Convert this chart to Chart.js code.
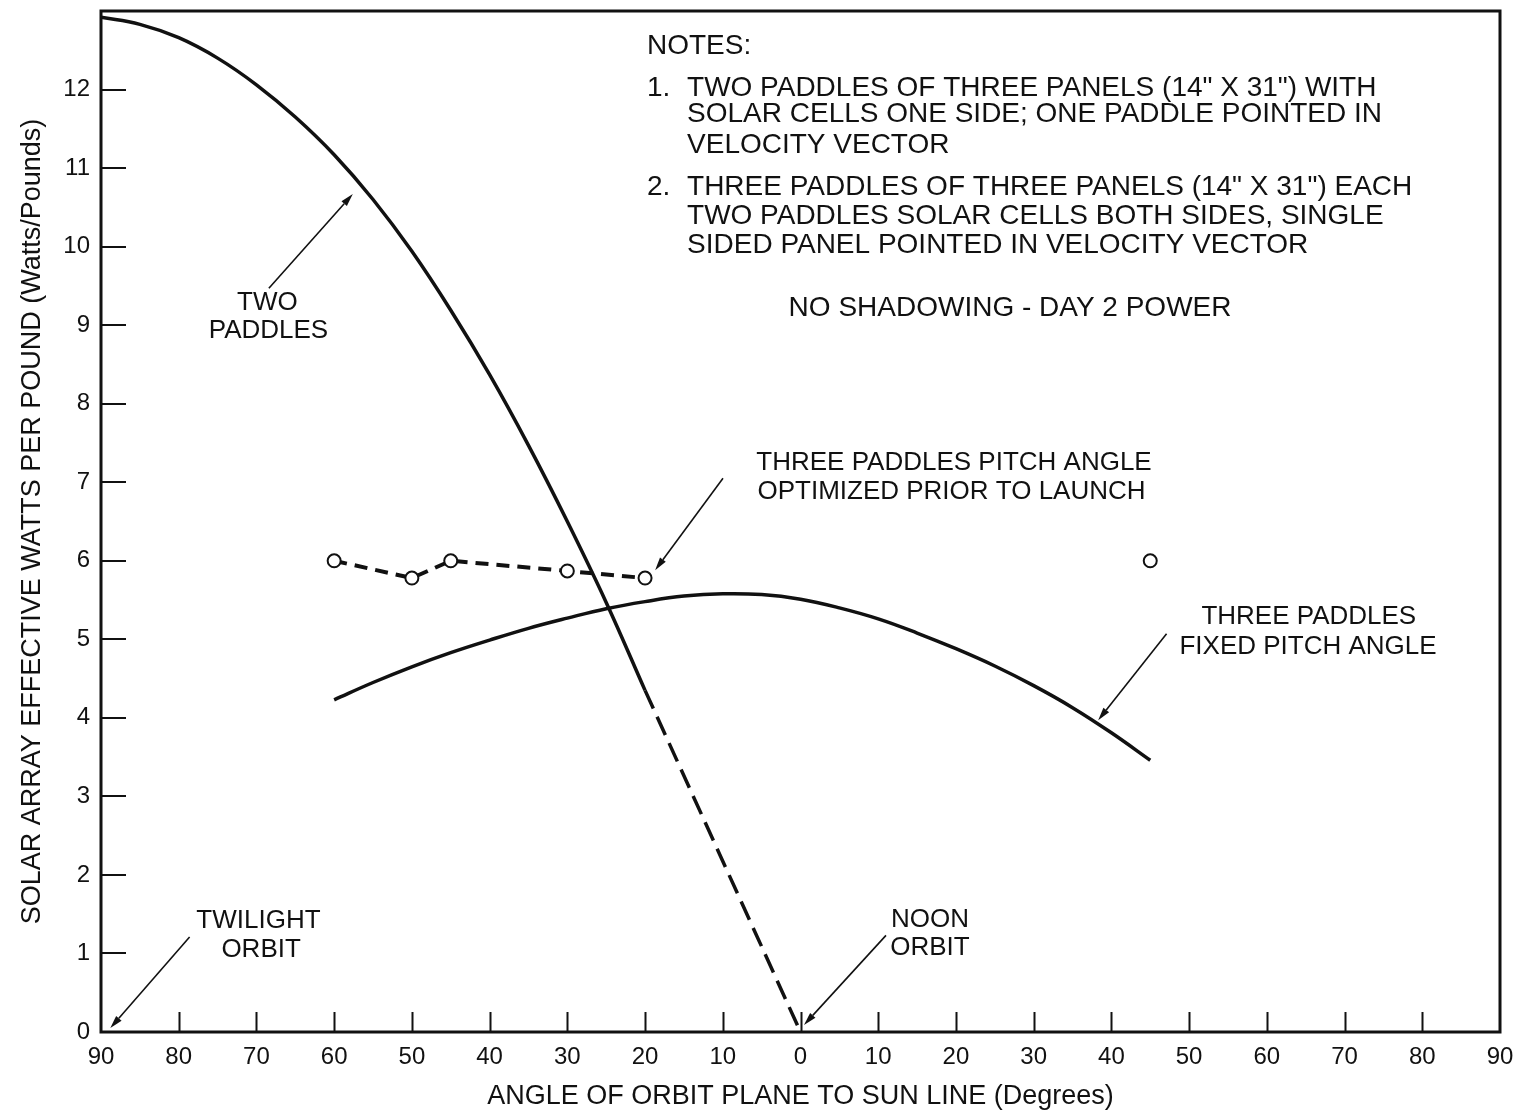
<!DOCTYPE html>
<html>
<head>
<meta charset="utf-8">
<script src="https://cdn.jsdelivr.net/npm/chart.js@4.4.1/dist/chart.umd.min.js"></script>
<style>
  html, body { margin: 0; padding: 0; background: #fff; }
  canvas { display: block; }
</style>
</head>
<body>
<canvas id="chart" width="1526" height="1114"></canvas>
<script>
// Angle of orbit plane to sun line: the left half of the axis runs 90 -> 0 (negative values),
// the right half runs 0 -> 90 (positive values).
const twoPaddleAngles = [-90, -85, -80, -75, -70, -65, -60, -55, -50, -45, -40, -35, -30, -25, -20];
const twoPaddleWatts  = [12.92, 12.83, 12.66, 12.40, 12.06, 11.65, 11.17, 10.60, 9.94, 9.19, 8.37, 7.47, 6.50, 5.47, 4.35];

// extrapolated part of the two-paddle curve down to the noon orbit
const twoPaddleExtAngles = [-20, 0];
const twoPaddleExtWatts  = [4.35, 0];

const fixedPitchAngles = [-60, -55, -50, -45, -40, -35, -30, -25, -20, -15, -10, -5, 0, 5, 10, 15, 20, 25, 30, 35, 40, 45];
const fixedPitchWatts  = [4.23, 4.45, 4.65, 4.83, 4.99, 5.14, 5.27, 5.39, 5.48, 5.55, 5.58, 5.57, 5.51, 5.40, 5.26, 5.08, 4.88, 4.66, 4.41, 4.13, 3.81, 3.46];

const optimizedAngles = [-60, -50, -45, -30, -20];
const optimizedWatts  = [6.00, 5.78, 6.00, 5.87, 5.78];

const optimizedLoneAngles = [45];
const optimizedLoneWatts  = [6.00];

const xTickLabels = ['90', '80', '70', '60', '50', '40', '30', '20', '10', '0', '10', '20', '30', '40', '50', '60', '70', '80', '90'];
const yTickLabels = ['0', '1', '2', '3', '4', '5', '6', '7', '8', '9', '10', '11', '12', ''];

const INK = '#111111';
const FONT = '"Liberation Sans", Arial, sans-serif';

const toPoints = (xs, ys) => xs.map((x, i) => ({ x, y: ys[i] }));

// Text blocks and arrows, placed in axis units.
const notes = [
  { text: 'NOTES:', x: -19.75, y: 12.55, align: 'left' },
  { text: '1.', x: -19.75, y: 12.02, align: 'left' },
  { text: 'TWO PADDLES OF THREE PANELS (14" X 31") WITH', x: -14.6, y: 12.02, align: 'left' },
  { text: 'SOLAR CELLS ONE SIDE; ONE PADDLE POINTED IN', x: -14.6, y: 11.68, align: 'left' },
  { text: 'VELOCITY VECTOR', x: -14.6, y: 11.29, align: 'left' },
  { text: '2.', x: -19.75, y: 10.76, align: 'left' },
  { text: 'THREE PADDLES OF THREE PANELS (14" X 31") EACH', x: -14.6, y: 10.76, align: 'left' },
  { text: 'TWO PADDLES SOLAR CELLS BOTH SIDES, SINGLE', x: -14.6, y: 10.39, align: 'left' },
  { text: 'SIDED PANEL POINTED IN VELOCITY VECTOR', x: -14.6, y: 10.02, align: 'left' },
  { text: 'NO SHADOWING - DAY 2 POWER', x: 26.96, y: 9.22, align: 'center' }
];

const labels = [
  { text: 'TWO', x: -68.6, y: 9.28 },
  { text: 'PADDLES', x: -68.45, y: 8.93 },
  { text: 'THREE PADDLES PITCH ANGLE', x: 19.75, y: 7.245 },
  { text: 'OPTIMIZED PRIOR TO LAUNCH', x: 19.43, y: 6.875 },
  { text: 'THREE PADDLES', x: 65.4, y: 5.28 },
  { text: 'FIXED PITCH ANGLE', x: 65.3, y: 4.90 },
  { text: 'TWILIGHT', x: -69.74, y: 1.41 },
  { text: 'ORBIT', x: -69.4, y: 1.05 },
  { text: 'NOON', x: 16.66, y: 1.43 },
  { text: 'ORBIT', x: 16.66, y: 1.07 }
];

const arrows = [
  { from: [-68.4, 9.47], to: [-57.6, 10.67] },
  { from: [-9.97, 7.05], to: [-18.7, 5.88] },
  { from: [47.1, 5.07], to: [38.3, 3.97] },
  { from: [-78.6, 1.21], to: [-88.8, 0.05] },
  { from: [11.0, 1.23], to: [0.45, 0.09] }
];

const framePlugin = {
  id: 'framePlugin',
  afterDatasetsDraw(chart) {
    const { ctx, chartArea: a, scales: { x, y } } = chart;
    ctx.save();
    ctx.strokeStyle = INK;
    ctx.fillStyle = INK;

    // inward tick marks
    ctx.lineWidth = 2;
    ctx.beginPath();
    x.ticks.forEach(t => {
      if (t.value <= x.min || t.value >= x.max) return;
      const px = Math.round(x.getPixelForValue(t.value)) + 0.5;
      ctx.moveTo(px, a.bottom);
      ctx.lineTo(px, a.bottom - 20);
    });
    y.ticks.forEach(t => {
      if (t.value <= y.min || t.value >= y.max) return;
      const py = Math.round(y.getPixelForValue(t.value));
      ctx.moveTo(a.left, py);
      ctx.lineTo(a.left + 25, py);
    });
    ctx.stroke();

    // plot frame
    ctx.lineWidth = 3;
    ctx.strokeRect(a.left, a.top, a.right - a.left, a.bottom - a.top);

    // arrows
    ctx.lineWidth = 1.6;
    arrows.forEach(ar => {
      const x0 = x.getPixelForValue(ar.from[0]), y0 = y.getPixelForValue(ar.from[1]);
      const x1 = x.getPixelForValue(ar.to[0]), y1 = y.getPixelForValue(ar.to[1]);
      const ang = Math.atan2(y1 - y0, x1 - x0);
      const len = 13, half = 3.6;
      const bx = x1 - len * Math.cos(ang), by = y1 - len * Math.sin(ang);
      ctx.beginPath();
      ctx.moveTo(x0, y0);
      ctx.lineTo(bx, by);
      ctx.stroke();
      ctx.beginPath();
      ctx.moveTo(x1, y1);
      ctx.lineTo(bx + half * Math.sin(ang), by - half * Math.cos(ang));
      ctx.lineTo(bx - half * Math.sin(ang), by + half * Math.cos(ang));
      ctx.closePath();
      ctx.fill();
    });

    // notes and curve labels
    ctx.textBaseline = 'middle';
    ctx.font = '28px ' + FONT;
    notes.forEach(n => {
      ctx.textAlign = n.align;
      ctx.fillText(n.text, x.getPixelForValue(n.x), y.getPixelForValue(n.y));
    });
    ctx.font = '26px ' + FONT;
    ctx.textAlign = 'center';
    labels.forEach(l => {
      ctx.fillText(l.text, x.getPixelForValue(l.x), y.getPixelForValue(l.y));
    });
    ctx.restore();
  }
};

new Chart(document.getElementById('chart'), {
  type: 'line',
  data: {
    datasets: [
      {
        data: toPoints(twoPaddleAngles, twoPaddleWatts),
        borderColor: INK, borderWidth: 3.5, pointRadius: 0,
        tension: 0.4
      },
      {
        data: toPoints(twoPaddleExtAngles, twoPaddleExtWatts),
        borderColor: INK, borderWidth: 3.5, pointRadius: 0,
        borderDash: [20, 9]
      },
      {
        data: toPoints(fixedPitchAngles, fixedPitchWatts),
        borderColor: INK, borderWidth: 3.5, pointRadius: 0,
        tension: 0.4
      },
      {
        data: toPoints(optimizedAngles, optimizedWatts),
        borderColor: INK, borderWidth: 4, borderDash: [13, 8],
        pointRadius: 6.5, pointBorderWidth: 2,
        pointBackgroundColor: '#ffffff', pointBorderColor: INK
      },
      {
        data: toPoints(optimizedLoneAngles, optimizedLoneWatts),
        showLine: false,
        pointRadius: 6.5, pointBorderWidth: 2,
        pointBackgroundColor: '#ffffff', pointBorderColor: INK
      }
    ]
  },
  options: {
    responsive: false,
    animation: false,
    devicePixelRatio: 1,
    layout: { padding: { top: 11, right: 26, bottom: 0, left: 0 } },
    plugins: { legend: { display: false }, tooltip: { enabled: false } },
    scales: {
      x: {
        type: 'linear',
        min: -90, max: 90,
        grid: { display: false, drawTicks: false },
        border: { display: false },
        ticks: {
          stepSize: 10, autoSkip: false, maxRotation: 0, padding: 11,
          color: INK, font: { family: FONT, size: 24 },
          callback: (v, i) => xTickLabels[i]
        },
        title: {
          display: true,
          text: 'ANGLE OF ORBIT PLANE TO SUN LINE (Degrees)',
          color: INK, font: { family: FONT, size: 27, lineHeight: 1 },
          padding: { top: 0, bottom: 3.5 }
        },
        afterFit(s) { s.height = 82; s.paddingLeft = 0; s.paddingRight = 0; }
      },
      y: {
        type: 'linear',
        min: 0, max: 13,
        grid: { display: false, drawTicks: false },
        border: { display: false },
        ticks: {
          stepSize: 1, autoSkip: false, padding: 11,
          color: INK, font: { family: FONT, size: 24 },
          callback: (v, i) => yTickLabels[i]
        },
        title: {
          display: true,
          text: 'SOLAR ARRAY EFFECTIVE WATTS PER POUND (Watts/Pounds)',
          color: INK, font: { family: FONT, size: 27, lineHeight: 1 },
          padding: { top: 19.5, bottom: 0 }
        },
        afterFit(s) { s.width = 101; s.paddingTop = 0; s.paddingBottom = 0; }
      }
    }
  },
  plugins: [framePlugin]
});
</script>
</body>
</html>
